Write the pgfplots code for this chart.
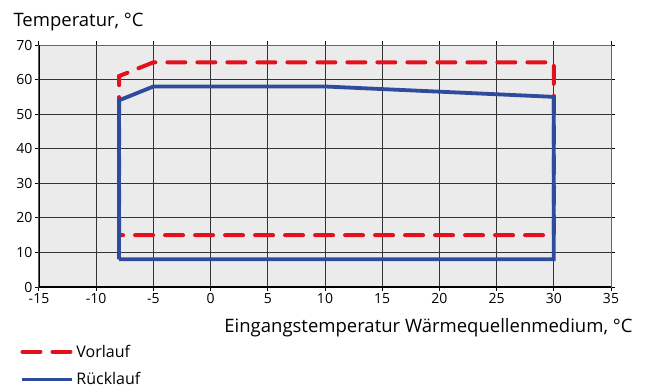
\documentclass[border=0pt]{standalone}
\usepackage{fontspec}
\setmainfont{Open Sans}
\usepackage{pgfplots}
\pgfplotsset{compat=1.18}
\definecolor{bggray}{HTML}{EBEBEB}
\definecolor{vorred}{HTML}{E3101E}
\definecolor{rueckblue}{HTML}{2F4B9B}
\begin{document}
\begin{tikzpicture}[x=1pt,y=1pt]
% outer frame to fix the picture size
\path[use as bounding box] (-39,-102) rectangle (607,287);
\begin{axis}[
    scale only axis,
    width=572pt, height=242pt,
    at={(0,0)}, anchor=south west,
    xmin=-15, xmax=35, ymin=0, ymax=70,
    xtick={-15,-10,...,35},
    ytick={0,10,...,70},
    axis background/.style={fill=bggray},
    grid=major,
    major grid style={black!80, line width=0.8pt},
    axis line style={black!60, line width=1pt},
    tick align=outside,
    tick style={black, line width=1pt},
    major tick length=4pt,
    ticklabel style={font=\fontsize{14}{16}\selectfont},
    /pgf/number format/assume math mode=true,
    xticklabel style={yshift=1pt},
    yticklabel style={xshift=1pt},
    xlabel={Eingangstemperatur Wärmequellenmedium, °C},
    xlabel style={at={(axis description cs:1.0437,-0.19)}, anchor=base east, font=\fontsize{18.5}{22}\selectfont},
    ylabel={Temperatur, °C},
    ylabel style={at={(axis description cs:-0.0507,1.0785)}, anchor=base west, rotate=-90, font=\fontsize{18.5}{22}\selectfont},
    legend style={at={(axis description cs:-0.038,-0.222)}, anchor=north west, draw=none, fill=none,
        font=\fontsize{16}{19}\selectfont, row sep=10pt, legend cell align=left},
    legend image code/.code={\draw[#1] (0pt,0pt) -- (50pt,0pt);},
]
\addplot[vorred, line width=4pt, dash pattern=on 18pt off 12pt, line cap=round, line join=miter]
    coordinates {
    (-8,15) (-8,61) (-5,65) (30,65) (30,15) (-8,15)
    };
\addlegendentry{Vorlauf}
\addplot[rueckblue, line width=3.8pt, line join=miter]
    coordinates {
    (-8,8) (-8,54) (-5,58) (10,58) (30,55) (30,8) (-8,8)
    };
\addlegendentry{Rücklauf}
\draw[black, line width=2pt] (rel axis cs:0,1) -- (rel axis cs:0,0) -- (rel axis cs:1,0);
\end{axis}
\end{tikzpicture}
\end{document}
